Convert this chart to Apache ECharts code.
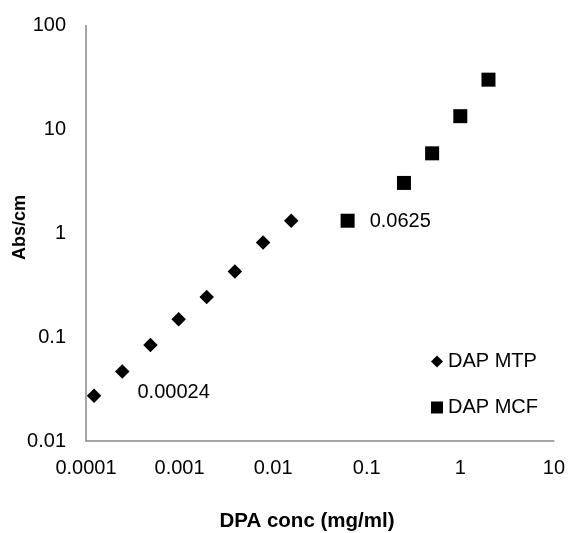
<!DOCTYPE html>
<html>
<head>
<meta charset="utf-8">
<script src="https://cdn.jsdelivr.net/npm/echarts@6/dist/echarts.min.js"></script>
<style>html,body{margin:0;padding:0;background:#fff}#chart{width:568px;height:533px}</style>
</head>
<body>
<div id="chart"></div>
<script>
// ---- data ----
const xMTP = [0.000122, 0.000244, 0.000488, 0.000977, 0.00195, 0.0039, 0.0078, 0.0156];
const yMTP = [0.0273, 0.0466, 0.0842, 0.149, 0.243, 0.428, 0.815, 1.32];
const labelsMTP = ['', '0.00024', '', '', '', '', '', ''];
const xMCF = [0.0625, 0.25, 0.5, 1, 2];
const yMCF = [1.32, 3.05, 5.88, 13.4, 30.1];
const labelsMCF = ['0.0625', '', '', '', ''];
const xTickLabels = ['0.0001', '0.001', '0.01', '0.1', '1', '10'];
const yTickLabels = ['0.01', '0.1', '1', '10', '100'];
const seriesNames = ['DAP MTP', 'DAP MCF'];
const xTitle = 'DPA conc (mg/ml)';
const yTitle = 'Abs/cm';

const FONT = 'Liberation Sans, Arial, sans-serif';
const FS = 20;

function tickFormatter(labels) {
  return function (v) {
    for (const l of labels) {
      if (Math.abs(Math.log10(Number(l)) - Math.log10(v)) < 1e-6) return l;
    }
    return '';
  };
}

function buildData(xs, ys, labels, offset) {
  return xs.map((x, i) => {
    const d = { value: [x, ys[i]] };
    if (labels[i]) {
      d.label = {
        show: true, formatter: labels[i], position: 'right', distance: 5,
        offset: offset, color: '#000', fontSize: FS, fontFamily: FONT
      };
    }
    return d;
  });
}

const chart = echarts.init(document.getElementById('chart'), null, { renderer: 'canvas' });
chart.setOption({
  animation: false,
  backgroundColor: '#fff',
  grid: { left: 86, right: 13, top: 25.5, bottom: 92, containLabel: false },
  xAxis: {
    type: 'log', logBase: 10, min: 0.0001, max: 10,
    axisLine: { show: true, onZero: false, lineStyle: { color: '#898989', width: 1.5 } },
    axisTick: { show: false },
    splitLine: { show: false },
    axisLabel: { margin: 17, color: '#000', fontSize: FS, fontFamily: FONT, formatter: tickFormatter(xTickLabels), showMinLabel: true, showMaxLabel: true }
  },
  yAxis: {
    type: 'log', logBase: 10, min: 0.01, max: 100,
    axisLine: { show: true, onZero: false, lineStyle: { color: '#898989', width: 1.5 } },
    axisTick: { show: false },
    splitLine: { show: false },
    axisLabel: { margin: 20, color: '#000', fontSize: FS, fontFamily: FONT, formatter: tickFormatter(yTickLabels), showMinLabel: true, showMaxLabel: true }
  },
  legend: {
    orient: 'vertical', left: 426, top: 346.5, itemWidth: 12, itemHeight: 12, itemGap: 26,
    textStyle: { color: '#000', fontSize: FS, fontFamily: FONT, lineHeight: 20 },
    data: [
      { name: seriesNames[0], icon: 'diamond' },
      { name: seriesNames[1], icon: 'rect' }
    ]
  },
  graphic: [
    { type: 'text', x: 307, y: 521, style: { text: xTitle, fontSize: 20.5, fontWeight: 'bold', fontFamily: FONT, fill: '#000', align: 'center', verticalAlign: 'middle' } },
    { type: 'text', x: 20, y: 227.5, rotation: Math.PI / 2, style: { text: yTitle, fontSize: 18, fontWeight: 'bold', fontFamily: FONT, fill: '#000', align: 'center', verticalAlign: 'middle' } }
  ],
  series: [
    {
      name: seriesNames[0], type: 'scatter', symbol: 'diamond', symbolSize: 14.5,
      itemStyle: { color: '#000', opacity: 1 },
      data: buildData(xMTP, yMTP, labelsMTP, [3, 21])
    },
    {
      name: seriesNames[1], type: 'scatter', symbol: 'rect', symbolSize: 14,
      itemStyle: { color: '#000', opacity: 1 },
      data: buildData(xMCF, yMCF, labelsMCF, [10, 1])
    }
  ]
});
</script>
</body>
</html>
